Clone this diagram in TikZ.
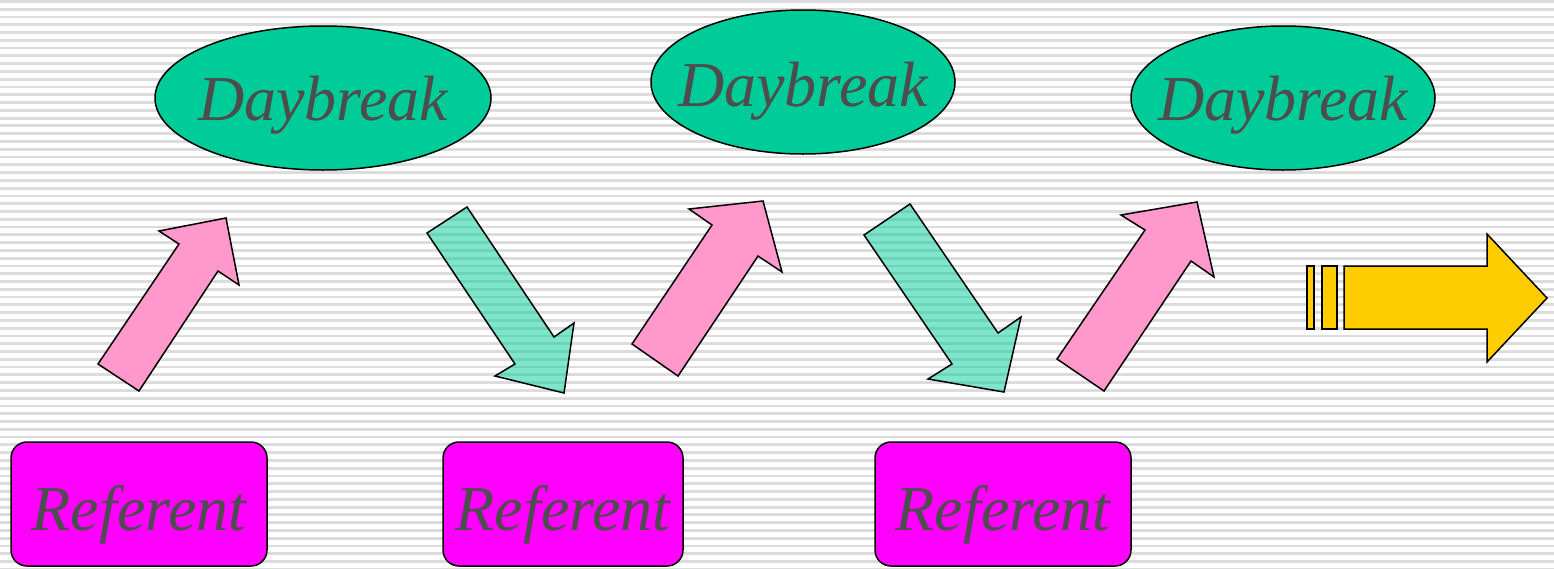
\documentclass[tikz,border=0pt]{standalone}
\usepackage{fontspec}
\setmainfont{Liberation Serif}
\usetikzlibrary{shapes.geometric}
\definecolor{bgstripe}{HTML}{DCDCDC}
\definecolor{sea}{HTML}{00CC99}
\definecolor{pinkf}{HTML}{FF99CC}
\definecolor{magf}{HTML}{FF00FF}
\definecolor{yelf}{HTML}{FFCC00}
\definecolor{txt}{HTML}{4D4D4D}
\newcommand{\lowtext}[2]{\makebox[0pt]{\smash{\raisebox{-#1pt}{#2}}}}
\tikzset{
  dayb/.style={ellipse, draw=black, line width=1.5pt, fill=sea, inner sep=0pt,
    text=txt, font=\fontsize{64}{70}\selectfont\itshape},
  refbox/.style={rectangle, rounded corners=16pt, draw=black, line width=1.5pt, fill=magf,
    minimum width=256pt, minimum height=124pt, inner sep=0pt,
    text=txt, font=\fontsize{64}{70}\selectfont\itshape},
  uparrow/.style={draw=black, line width=1.5pt, fill=pinkf, line join=miter},
  downarrow/.style={draw=black, line width=1.5pt, fill=sea, fill opacity=0.5, line join=miter},
  goarrow/.style={draw=black, line width=1.5pt, fill=yelf, line join=miter},
}
\begin{document}
\begin{tikzpicture}[x=1pt,y=-1pt]
\useasboundingbox (0,0) rectangle (1554,568);
\fill[white] (0,0) rectangle (1554,568);
\foreach \i in {0,...,73} {
  \fill[bgstripe] (0,{\i*7.78}) rectangle (1554,{\i*7.78+2.8});
}
% ellipses
\node[dayb, minimum width=336pt, minimum height=144pt] (d1) at (323,98) {\lowtext{22}{Daybreak}};
\node[dayb, minimum width=304pt, minimum height=144pt] (d2) at (803,82) {\lowtext{24}{Daybreak}};
\node[dayb, minimum width=304pt, minimum height=144pt] (d3) at (1283,98) {\lowtext{22}{Daybreak}};
% referent boxes
\node[refbox] (r1) at (139,504) {\lowtext{26}{Referent}};
\node[refbox, minimum width=240pt] (r2) at (563,504) {\lowtext{26}{Referent}};
\node[refbox] (r3) at (1003,504) {\lowtext{26}{Referent}};
% pink up arrows
\draw[uparrow] (98,364) -- (139,391) -- (218,271) -- (239,285) -- (226,218) -- (159,231) -- (179,244) -- cycle;
\draw[uparrow] (632,344) -- (678,376) -- (758,256) -- (782,272) -- (763,201) -- (689,209) -- (712,225) -- cycle;
\draw[uparrow] (1057,359) -- (1104,391) -- (1191,261) -- (1214,277) -- (1197,202) -- (1121,215) -- (1145,230) -- cycle;
% green down arrows
\draw[downarrow] (427,233) -- (467,207) -- (554,337) -- (574,323) -- (564,393) -- (495,376) -- (515,364) -- cycle;
\draw[downarrow] (864,235) -- (910,204) -- (998,333) -- (1021,317) -- (1004,392) -- (928,379) -- (952,364) -- cycle;
% yellow arrow
\draw[goarrow] (1307,266) rectangle (1314,329);
\draw[goarrow] (1322,266) rectangle (1337,329);
\draw[goarrow] (1344,266) -- (1487,266) -- (1487,234) -- (1547,298) -- (1487,362) -- (1487,329) -- (1344,329) -- cycle;
\end{tikzpicture}
\end{document}
